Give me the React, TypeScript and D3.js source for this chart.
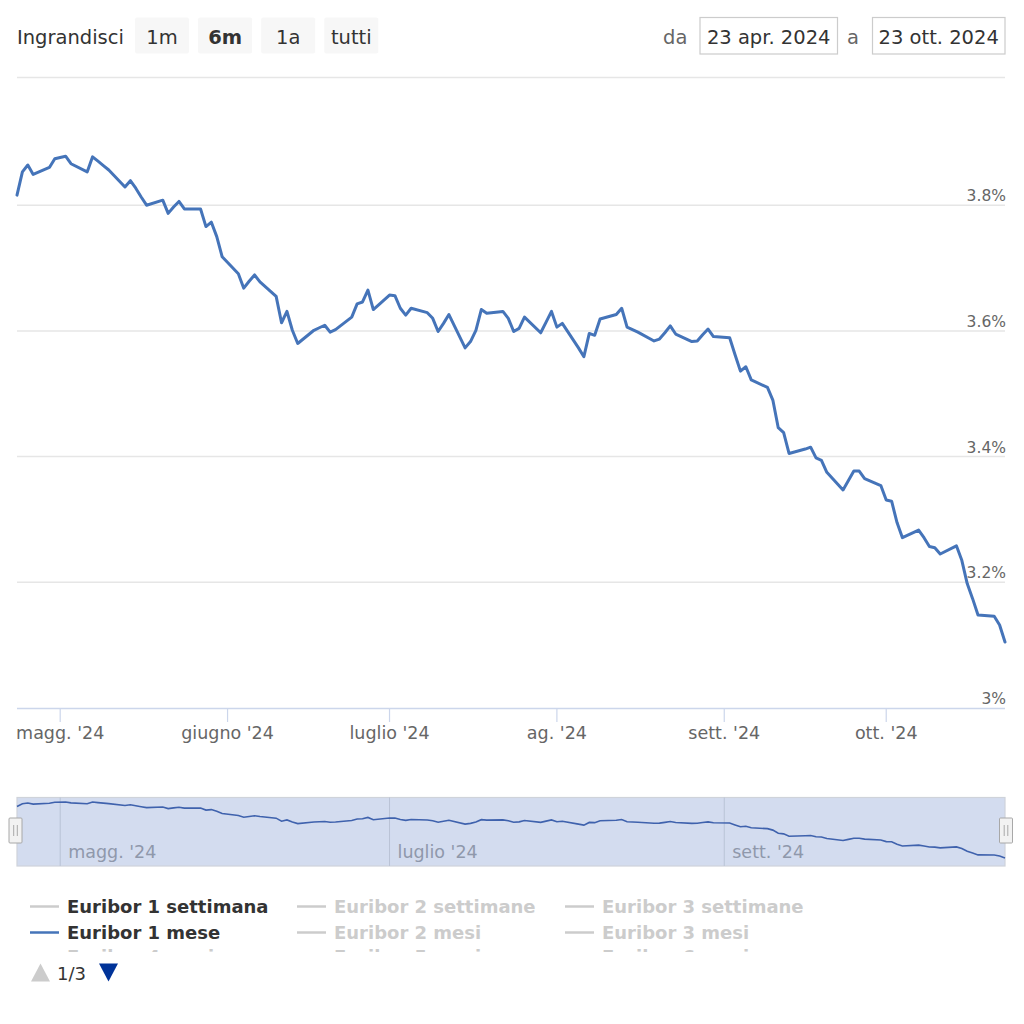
import React from "react";
import * as d3 from "d3";

const dates: string[] = [
  "2024-04-23", "2024-04-24", "2024-04-25", "2024-04-26",
  "2024-04-29", "2024-04-30", "2024-05-02", "2024-05-03",
  "2024-05-06", "2024-05-07", "2024-05-08", "2024-05-09", "2024-05-10",
  "2024-05-13", "2024-05-14", "2024-05-15", "2024-05-16", "2024-05-17",
  "2024-05-20", "2024-05-21", "2024-05-22", "2024-05-23", "2024-05-24",
  "2024-05-27", "2024-05-28", "2024-05-29", "2024-05-30", "2024-05-31",
  "2024-06-03", "2024-06-04", "2024-06-05", "2024-06-06", "2024-06-07",
  "2024-06-10", "2024-06-11", "2024-06-12", "2024-06-13", "2024-06-14",
  "2024-06-17", "2024-06-18", "2024-06-19", "2024-06-20", "2024-06-21",
  "2024-06-24", "2024-06-25", "2024-06-26", "2024-06-27", "2024-06-28",
  "2024-07-01", "2024-07-02", "2024-07-03", "2024-07-04", "2024-07-05",
  "2024-07-08", "2024-07-09", "2024-07-10", "2024-07-11", "2024-07-12",
  "2024-07-15", "2024-07-16", "2024-07-17", "2024-07-18", "2024-07-19",
  "2024-07-22", "2024-07-23", "2024-07-24", "2024-07-25", "2024-07-26",
  "2024-07-29", "2024-07-30", "2024-07-31", "2024-08-01", "2024-08-02",
  "2024-08-05", "2024-08-06", "2024-08-07", "2024-08-08", "2024-08-09",
  "2024-08-12", "2024-08-13", "2024-08-14", "2024-08-15", "2024-08-16",
  "2024-08-19", "2024-08-20", "2024-08-21", "2024-08-22", "2024-08-23",
  "2024-08-26", "2024-08-27", "2024-08-28", "2024-08-29", "2024-08-30",
  "2024-09-02", "2024-09-03", "2024-09-04", "2024-09-05", "2024-09-06",
  "2024-09-09", "2024-09-10", "2024-09-11", "2024-09-12", "2024-09-13",
  "2024-09-16", "2024-09-17", "2024-09-18", "2024-09-19", "2024-09-20",
  "2024-09-23", "2024-09-24", "2024-09-25", "2024-09-26", "2024-09-27",
  "2024-09-30", "2024-10-01", "2024-10-02", "2024-10-03", "2024-10-04",
  "2024-10-07", "2024-10-08", "2024-10-09", "2024-10-10", "2024-10-11",
  "2024-10-14", "2024-10-15", "2024-10-16", "2024-10-17", "2024-10-18",
  "2024-10-21", "2024-10-22", "2024-10-23",
];

const euribor1m: number[] = [
  3.816, 3.853, 3.864, 3.849,
  3.860, 3.874, 3.878, 3.866,
  3.853, 3.877, 3.870, 3.863, 3.856,
  3.829, 3.839, 3.827, 3.813, 3.800,
  3.808, 3.787, 3.797, 3.806, 3.794,
  3.794, 3.766, 3.773, 3.750, 3.718,
  3.691, 3.668, 3.679, 3.689, 3.678,
  3.655, 3.613, 3.631, 3.601, 3.580,
  3.601, 3.605, 3.609, 3.598, 3.602,
  3.622, 3.643, 3.646, 3.665, 3.634,
  3.657, 3.656, 3.636, 3.625, 3.636,
  3.629, 3.620, 3.599, 3.612, 3.626,
  3.573, 3.583, 3.601, 3.634, 3.628,
  3.631, 3.620, 3.599, 3.604, 3.622,
  3.597, 3.614, 3.631, 3.606, 3.612,
  3.573, 3.559, 3.596, 3.593, 3.619,
  3.626, 3.636, 3.606, 3.602, 3.598,
  3.584, 3.587, 3.597, 3.608, 3.595,
  3.583, 3.584, 3.594, 3.603, 3.591,
  3.589, 3.562, 3.536, 3.543, 3.522,
  3.510, 3.490, 3.446, 3.438, 3.405,
  3.412, 3.415, 3.398, 3.394, 3.375,
  3.347, 3.362, 3.377, 3.377, 3.365,
  3.354, 3.331, 3.329, 3.295, 3.271,
  3.283, 3.271, 3.257, 3.255, 3.245,
  3.258, 3.235, 3.198, 3.174, 3.148,
  3.146, 3.132, 3.105,
];

const rangeStart = "2024-04-23";
const rangeEnd = "2024-10-23";
const yTicks: number[] = [3.0, 3.2, 3.4, 3.6, 3.8, 4.0];
const yTickLabels: string[] = ["3%", "3.2%", "3.4%", "3.6%", "3.8%", ""];
const monthLabels: string[] = ["magg. '24", "giugno '24", "luglio '24", "ag. '24", "sett. '24", "ott. '24"];
const navMonthLabels: string[] = ["magg. '24", "luglio '24", "sett. '24"];
const zoomButtons: string[] = ["1m", "6m", "1a", "tutti"];
const selectedButton = "6m";
const fromLabel = "23 apr. 2024";
const toLabel = "23 ott. 2024";
const legendRows: string[][] = [
  ["Euribor 1 settimana", "Euribor 2 settimane", "Euribor 3 settimane"],
  ["Euribor 1 mese", "Euribor 2 mesi", "Euribor 3 mesi"],
  ["Euribor 4 mesi", "Euribor 5 mesi", "Euribor 6 mesi"],
];
const activeItems: string[] = ["Euribor 1 settimana", "Euribor 1 mese"];
const shownSeries = "Euribor 1 mese";

const FONT = "'DejaVu Sans', Verdana, sans-serif";
const BLUE = "#4574b9";

export default function App() {
  const parse = d3.utcParse("%Y-%m-%d");
  const data = dates.map((d, i) => ({ date: parse(d) as Date, value: euribor1m[i] }));
  const start = parse(rangeStart) as Date;
  const end = parse(rangeEnd) as Date;

  const left = 17;
  const right = 1005;
  const x = d3.scaleUtc().domain([start, end]).range([left, right]);
  const y = d3.scaleLinear().domain([3.0, 4.0]).range([708, 79.5]);

  const line = d3
    .line<{ date: Date; value: number }>()
    .x((d) => x(d.date))
    .y((d) => y(d.value));

  const monthTicks = d3.utcMonth.range(d3.utcMonth.ceil(start), end);

  // navigator
  const navTop = 797.5;
  const navBottom = 866;
  const [minV, maxV] = d3.extent(euribor1m) as [number, number];
  const ny = d3.scaleLinear().domain([minV, maxV]).range([858, 802]);
  const navLine = d3
    .line<{ date: Date; value: number }>()
    .x((d) => x(d.date))
    .y((d) => ny(d.value));
  const navTicks = d3.utcMonth.every(2)!.range(d3.utcMonth.ceil(start), end);

  const handle = (cx: number) => (
    <g>
      <rect x={cx - 6.5} y={818} width={13} height={25} fill="#f2f2f2" stroke="#a8a8a8" strokeWidth={1} rx={1} />
      <line x1={cx - 1.8} x2={cx - 1.8} y1={825} y2={836} stroke="#a8a8a8" strokeWidth={1} />
      <line x1={cx + 1.8} x2={cx + 1.8} y1={825} y2={836} stroke="#a8a8a8" strokeWidth={1} />
    </g>
  );

  const colX = [30, 297, 565];
  const rowY = [913, 939, 963];

  return (
    <svg
      width={1024}
      height={1024}
      style={{ position: "absolute", left: 0, top: 0, background: "#fff" }}
      fontFamily={FONT}
    >
      <rect width={1024} height={1024} fill="#fff" />
      {/* range selector */}
      <text x={17} y={44} fontSize={19.5} fill="#333">Ingrandisci</text>
      {zoomButtons.map((b, i) => {
        const bx = 135 + i * 63.1;
        return (
          <g key={b}>
            <rect x={bx} y={17.5} width={54} height={36} fill="#f7f7f7" rx={2} />
            <text
              x={bx + 27}
              y={44}
              textAnchor="middle"
              fontSize={19.5}
              fontWeight={b === selectedButton ? "bold" : "normal"}
              fill="#333"
            >
              {b}
            </text>
          </g>
        );
      })}
      <text x={663} y={44} fontSize={19.5} fill="#666">da</text>
      <rect x={700} y={17.5} width={137.5} height={36.5} fill="#fff" stroke="#cccccc" strokeWidth={1.2} />
      <text x={768.7} y={44} textAnchor="middle" fontSize={19.5} fill="#333">{fromLabel}</text>
      <text x={847} y={44} fontSize={19.5} fill="#666">a</text>
      <rect x={872.5} y={17.5} width={132.5} height={36.5} fill="#fff" stroke="#cccccc" strokeWidth={1.2} />
      <text x={938.7} y={44} textAnchor="middle" fontSize={19.5} fill="#333">{toLabel}</text>

      {/* grid */}
      <line x1={left} x2={right} y1={77.5} y2={77.5} stroke="#e6e6e6" strokeWidth={1.5} />
      {yTicks.map((t) =>
        t > 3.0 && t < 4.0 ? (
          <line key={"g" + t} x1={left} x2={right} y1={y(t)} y2={y(t)} stroke="#e6e6e6" strokeWidth={1.5} />
        ) : null
      )}
      {yTicks.map((t, i) =>
        yTickLabels[i] ? (
          <text key={"l" + t} x={1006} y={y(t) - 4} textAnchor="end" fontSize={15.5} fill="#666">
            {yTickLabels[i]}
          </text>
        ) : null
      )}

      {/* x axis */}
      <line x1={left} x2={right} y1={708.5} y2={708.5} stroke="#ccd6eb" strokeWidth={1.5} />
      {monthTicks.map((m, i) => (
        <g key={"m" + i}>
          <line x1={x(m)} x2={x(m)} y1={709} y2={722} stroke="#ccd6eb" strokeWidth={1.2} />
          <text x={x(m)} y={739} textAnchor="middle" fontSize={17.5} fill="#666">
            {monthLabels[i]}
          </text>
        </g>
      ))}

      {/* series */}
      <path d={line(data) || ""} fill="none" stroke={BLUE} strokeWidth={3} strokeLinejoin="round" strokeLinecap="round" />

      {/* navigator */}
      <rect x={left} y={navTop} width={right - left} height={navBottom - navTop} fill="#d3dcef" stroke="#cfd3da" strokeWidth={1.2} />
      {navTicks.map((m, i) => (
        <g key={"n" + i}>
          <line x1={x(m)} x2={x(m)} y1={navTop} y2={navBottom} stroke="#b9c3d6" strokeWidth={1} />
          <text x={x(m) + 8} y={858} fontSize={17.5} fill="#8f98ab">
            {navMonthLabels[i]}
          </text>
        </g>
      ))}
      <path d={navLine(data) || ""} fill="none" stroke="#3f62ad" strokeWidth={1.6} />
      {handle(15.5)}
      {handle(1006)}

      {/* legend */}
      <defs>
        <clipPath id="legendClip">
          <rect x={0} y={890} width={1024} height={62} />
        </clipPath>
      </defs>
      <g clipPath="url(#legendClip)">
        {legendRows.map((row, r) =>
          row.map((name, c) => {
            const active = activeItems.includes(name);
            const symColor = name === shownSeries ? BLUE : "#cccccc";
            return (
              <g key={name}>
                <line
                  x1={colX[c]}
                  x2={colX[c] + 29}
                  y1={rowY[r] - 6.5}
                  y2={rowY[r] - 6.5}
                  stroke={symColor}
                  strokeWidth={2.5}
                />
                <text x={colX[c] + 37} y={rowY[r]} fontSize={18} fontWeight="bold" fill={active ? "#333" : "#cccccc"}>
                  {name}
                </text>
              </g>
            );
          })
        )}
      </g>
      {/* pagination */}
      <path d="M31,981.5 L40.5,963.5 L50,981.5 Z" fill="#cccccc" />
      <text x={57} y={980} fontSize={18} fill="#333">1/3</text>
      <path d="M99,963.5 L118,963.5 L108.5,981.5 Z" fill="#003399" />
    </svg>
  );
}
